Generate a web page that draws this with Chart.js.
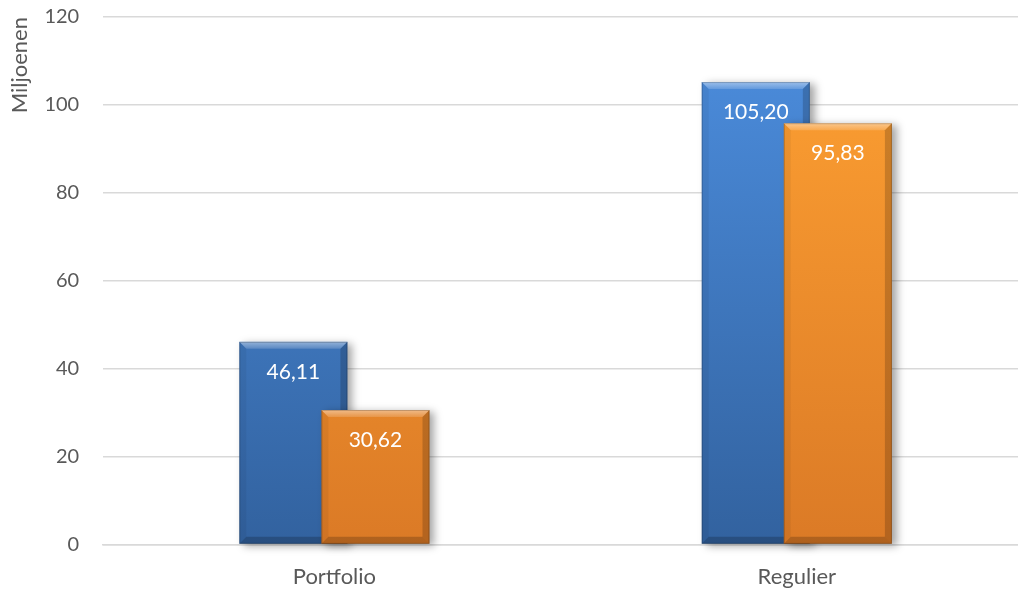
<!DOCTYPE html>
<html>
<head>
<meta charset="utf-8">
<script src="https://cdn.jsdelivr.net/npm/chart.js@4.4.0/dist/chart.umd.min.js"></script>
<style>
  html, body { margin: 0; padding: 0; background: #fff; overflow: hidden; }
  #wrap { width: 1028px; height: 590px; position: relative; }
</style>
</head>
<body>
<div id="wrap"><canvas id="chart"></canvas></div>
<script>
// chart data
const categories = ['Portfolio', 'Regulier'];
const seriesBlue = [46.11, 105.20];
const seriesOrange = [30.62, 95.83];
const yTicks = [0, 20, 40, 60, 80, 100, 120];

const FONT = 'Lato, "Open Sans", sans-serif';

function vGradient(ctx, area, top, bottom) {
  var g = ctx.createLinearGradient(0, area.top, 0, area.bottom);
  g.addColorStop(0, top);
  g.addColorStop(1, bottom);
  return g;
}

// bevel edges on one bar
function drawBevel(c, bar) {
  const p = bar.getProps(['x', 'y', 'base', 'width'], true);
  const l = p.x - p.width / 2, r = p.x + p.width / 2;
  const t = p.y, b = p.base, s = 7;
  c.save();
  var g = c.createLinearGradient(0, t, 0, t + s);
  g.addColorStop(0, 'rgba(255,255,255,0.45)');
  g.addColorStop(1, 'rgba(255,255,255,0.15)');
  c.fillStyle = g;
  c.beginPath();
  c.moveTo(l, t); c.lineTo(r, t); c.lineTo(r - s, t + s); c.lineTo(l + s, t + s);
  c.closePath(); c.fill();
  c.fillStyle = 'rgba(0,0,0,0.05)';
  c.beginPath();
  c.moveTo(l, t); c.lineTo(l + s, t + s); c.lineTo(l + s, b - s); c.lineTo(l, b);
  c.closePath(); c.fill();
  c.fillStyle = 'rgba(0,0,0,0.18)';
  c.beginPath();
  c.moveTo(r, t); c.lineTo(r - s, t + s); c.lineTo(r - s, b - s); c.lineTo(r, b);
  c.closePath(); c.fill();
  c.fillStyle = 'rgba(0,0,0,0.2)';
  c.beginPath();
  c.moveTo(l, b); c.lineTo(l + s, b - s); c.lineTo(r - s, b - s); c.lineTo(r, b);
  c.closePath(); c.fill();
  c.strokeStyle = 'rgba(0,0,0,0.2)';
  c.lineWidth = 1;
  c.strokeRect(l + 0.5, t + 0.5, p.width - 1, b - t - 1);
  c.restore();
}

// draw the datasets ourselves in index order so the orange bars lie over the blue ones
const barDrawPlugin = {
  id: 'barDraw',
  beforeDatasetDraw() {
    return false;
  },
  afterDatasetsDraw(chart) {
    const c = chart.ctx;
    chart.data.datasets.forEach((ds, i) => {
      const meta = chart.getDatasetMeta(i);
      c.save();
      c.shadowColor = 'rgba(0,0,0,0.35)';
      c.shadowBlur = 8;
      c.shadowOffsetX = 5;
      c.shadowOffsetY = 2;
      meta.controller.draw();
      c.restore();
      meta.data.forEach((bar) => drawBevel(c, bar));
    });

    // value labels inside the top of each bar
    c.save();
    c.font = '21px ' + FONT;
    c.fillStyle = '#ffffff';
    c.textAlign = 'center';
    c.textBaseline = 'middle';
    chart.data.datasets.forEach((ds, i) => {
      chart.getDatasetMeta(i).data.forEach((bar, j) => {
        const txt = ds.data[j].toFixed(2).replace('.', ',');
        c.fillText(txt, bar.x, bar.y + 30);
      });
    });
    c.restore();
  }
};

new Chart(document.getElementById('chart'), {
  type: 'bar',
  data: {
    labels: categories,
    datasets: [
      {
        data: seriesBlue,
        backgroundColor: (ctx) => {
          const a = ctx.chart.chartArea;
          if (!a) return '#4080d0';
          return vGradient(ctx.chart.ctx, a, '#4d8fe0', '#32629f');
        }
      },
      {
        data: seriesOrange,
        backgroundColor: (ctx) => {
          const a = ctx.chart.chartArea;
          if (!a) return '#f39030';
          return vGradient(ctx.chart.ctx, a, '#ffa233', '#db7a26');
        }
      }
    ]
  },
  options: {
    responsive: true,
    maintainAspectRatio: false,
    animation: false,
    datasets: {
      bar: { categoryPercentage: 0.355, barPercentage: 1.317 }
    },
    layout: { padding: { top: 0, right: 0, bottom: -11, left: 0 } },
    plugins: {
      legend: { display: false },
      tooltip: { enabled: false }
    },
    scales: {
      x: {
        grid: { display: false },
        border: { color: '#d9d9d9', width: 1.5 },
        ticks: { color: '#595959', font: { family: FONT, size: 22 }, padding: 11 }
      },
      y: {
        min: 0, max: 120,
        afterBuildTicks: (axis) => { axis.ticks = yTicks.map((v) => ({ value: v })); },
        grid: { color: '#d9d9d9', lineWidth: 1.5, drawTicks: true, tickLength: 19, tickColor: 'transparent' },
        border: { display: false },
        ticks: { color: '#595959', font: { family: FONT, size: 20 }, padding: 5 },
        title: {
          display: true, text: 'Miljoenen', color: '#595959', align: 'end',
          font: { family: FONT, size: 22 }, padding: { top: 7, bottom: 6 }
        }
      }
    }
  },
  plugins: [barDrawPlugin]
});
</script>
</body>
</html>
